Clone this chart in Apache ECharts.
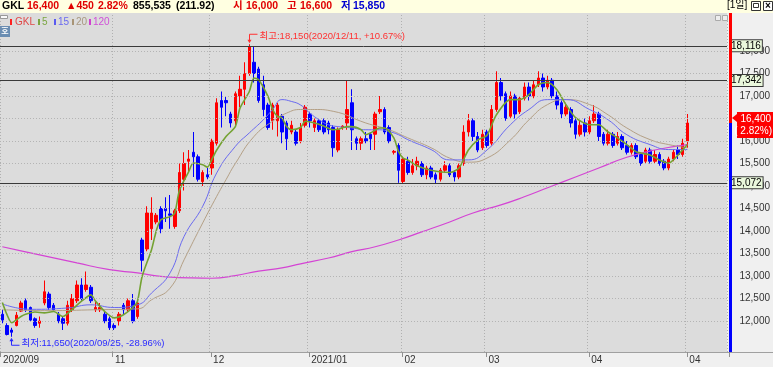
<!DOCTYPE html>
<html><head><meta charset="utf-8">
<script src="https://cdn.jsdelivr.net/npm/echarts@6.0.0/dist/echarts.min.js"></script>
<style>html,body{margin:0;padding:0;background:#f0f0f0;overflow:hidden}#c{width:773px;height:367px}</style>
</head><body><div id="c"></div>
<script>
const dates = ['2020/09/23','2020/09/24','2020/09/25','2020/09/28','2020/09/29',
'2020/10/05','2020/10/06','2020/10/07','2020/10/08','2020/10/12','2020/10/13','2020/10/14','2020/10/15','2020/10/16','2020/10/19','2020/10/20','2020/10/21','2020/10/22','2020/10/23','2020/10/26','2020/10/27','2020/10/28','2020/10/29','2020/10/30',
'2020/11/02','2020/11/03','2020/11/04','2020/11/05','2020/11/06','2020/11/09','2020/11/10','2020/11/11','2020/11/12','2020/11/13','2020/11/16','2020/11/17','2020/11/18','2020/11/19','2020/11/20','2020/11/23','2020/11/24','2020/11/25','2020/11/26','2020/11/27','2020/11/30',
'2020/12/01','2020/12/02','2020/12/03','2020/12/04','2020/12/07','2020/12/08','2020/12/09','2020/12/10','2020/12/11','2020/12/14','2020/12/15','2020/12/16','2020/12/17','2020/12/18','2020/12/21','2020/12/22','2020/12/23','2020/12/24','2020/12/28','2020/12/29','2020/12/30',
'2021/01/04','2021/01/05','2021/01/06','2021/01/07','2021/01/08','2021/01/11','2021/01/12','2021/01/13','2021/01/14','2021/01/15','2021/01/18','2021/01/19','2021/01/20','2021/01/21','2021/01/22','2021/01/25','2021/01/26','2021/01/27','2021/01/28','2021/01/29',
'2021/02/01','2021/02/02','2021/02/03','2021/02/04','2021/02/05','2021/02/08','2021/02/09','2021/02/10','2021/02/15','2021/02/16','2021/02/17','2021/02/18','2021/02/19','2021/02/22','2021/02/23','2021/02/24','2021/02/25','2021/02/26',
'2021/03/02','2021/03/03','2021/03/04','2021/03/05','2021/03/08','2021/03/09','2021/03/10','2021/03/11','2021/03/12','2021/03/15','2021/03/16','2021/03/17','2021/03/18','2021/03/19','2021/03/22','2021/03/23','2021/03/24','2021/03/25','2021/03/26','2021/03/29','2021/03/30','2021/03/31',
'2021/04/01','2021/04/02','2021/04/05','2021/04/06','2021/04/07','2021/04/08','2021/04/09','2021/04/12','2021/04/13','2021/04/14','2021/04/15','2021/04/16','2021/04/19','2021/04/20','2021/04/21','2021/04/22','2021/04/23','2021/04/26','2021/04/27','2021/04/28','2021/04/29','2021/04/30'];

const opens = [12150,11900,11800,11900,12220,12450,12300,12050,11950,12400,
12600,12350,12150,12050,11950,12250,12450,12800,12700,12750,
12250,12250,12150,12050,11900,12000,12350,12250,12450,12100,
13800,13600,14050,14200,14500,14500,14380,14100,14450,15150,
15550,15750,15650,15100,15250,15400,15950,16900,16900,16600,
16450,17000,17150,17500,17750,17600,17250,16800,16450,16450,
16550,16400,16200,16200,16000,16350,16600,16300,16450,16450,
16400,16300,15800,16300,16400,16850,16050,15950,16050,16150,
16150,16650,16700,16300,15750,15900,15100,15550,15300,15450,
15500,15250,15400,15250,15150,15350,15450,15300,15200,15500,
16200,16450,16100,15850,16200,15950,16700,17300,17050,16550,
17000,16650,16950,17200,17000,17250,17400,17200,17350,17000,
16850,16600,16700,16450,16150,16400,16200,16450,16600,16150,
15950,16150,15950,16100,15900,15750,15900,15700,15550,15800,
15550,15700,15550,15400,15600,15800,15700,16000];

const closes = [12020,11700,11750,12130,12400,12250,12020,11900,12000,12650,
12300,12250,12000,11950,12350,12500,12800,12500,12800,12450,
12300,12300,12000,11850,11850,12150,12250,12450,12000,12400,
13350,14400,14400,14350,14050,14450,14350,14450,15300,15500,
15600,15650,15150,15300,15200,16000,16850,16750,16850,16400,
17050,17150,17500,18100,17500,16900,16700,16300,16800,16800,
16200,16050,16350,15950,16300,16750,16450,16450,16250,16200,
16250,15850,16250,16330,16700,16250,15950,16050,16000,16050,
16600,16700,16200,16000,15770,15350,15600,15300,15450,15550,
15250,15400,15200,15150,15350,15450,15250,15200,15450,16200,
16450,16100,15800,16150,15900,16700,17300,17000,16500,17000,
16600,16950,17200,17000,17250,17400,17200,17350,17000,16800,
16600,16750,16400,16150,16350,16200,16450,16600,16100,15950,
16150,15900,16100,15850,15750,15900,15650,15500,15800,15550,
15700,15500,15400,15600,15750,15700,15950,16400];

const lows = [11950,11680,11650,11880,12200,12200,12000,11850,11850,12350,
12250,12200,11950,11800,11900,12200,12400,12450,12650,12400,
12200,12200,11950,11800,11800,11900,12150,12200,11950,12050,
13100,13550,13800,14150,13950,14200,14050,14050,14400,14900,
15300,15200,15100,15000,15150,15250,15900,16300,16550,16300,
16350,16750,16800,17450,17300,16850,16550,16250,16250,16100,
15950,15800,16150,15900,15950,16300,16300,16200,16200,16150,
16150,15650,15750,16250,16250,15800,15800,15800,15950,15800,
15800,16600,16150,15950,15700,15070,15050,15250,15250,15350,
15200,15150,15150,15050,15100,15300,15200,15100,15150,15450,
16100,16000,15750,15800,15850,15900,16650,16900,16450,16500,
16500,16600,16900,16900,16950,17200,17100,17150,16950,16700,
16500,16550,16300,16050,16100,16100,16150,16400,16000,15900,
15900,15850,15900,15800,15700,15700,15600,15450,15500,15500,
15500,15450,15350,15350,15550,15600,15650,15850];

const highs = [12250,11950,11850,12200,12450,12500,12320,12080,12100,12900,
12650,12400,12200,12100,12450,12600,12900,12950,13100,12800,
12450,12400,12200,12100,11950,12200,12400,12500,12600,12450,
13850,14550,14750,14400,14550,14750,14800,14500,15500,15750,
15800,16200,15700,15350,15400,16050,16950,17100,17000,16650,
17100,17450,17750,18150,18100,17650,17450,16850,16850,16850,
16600,16450,16450,16250,16400,16800,16650,16500,16500,16500,
16450,16350,16300,16350,17350,17150,16100,16100,16200,16200,
16650,17000,16750,16350,15800,15950,15650,15650,15600,15650,
15550,15450,15450,15300,15400,15550,15500,15350,15500,16350,
16600,16500,16200,16250,16250,16800,17550,17400,17100,17100,
17050,17000,17300,17300,17350,17550,17500,17450,17400,17100,
16900,16850,16750,16500,16450,16500,16550,16800,16650,16200,
16250,16200,16200,16150,16000,15950,15950,15750,15850,15850,
15800,15750,15600,15650,15800,15900,16050,16600];

// moving averages: [category index, value]
const ma5 = [[0,12410],[1,12140],[2,11960],[4,12100],[5,12150],[7,12200],[9,12180],[11,12210],[13,12100],[15,12260],[17,12440],[19,12580],[20,12440],[22,12210],[24,12070],[26,12140],[28,12300],[29,12440],[30,12990],[32,13580],[33,13990],[34,14250],[36,14320],[37,14400],[38,14900],[40,15320],[41,15510],[43,15470],[44,15420],[45,15600],[46,15800],[48,16100],[50,16320],[51,16730],[53,17100],[54,17400],[55,17360],[57,16990],[58,16700],[59,16550],[60,16510],[61,16320],[62,16250],[64,16300],[65,16440],[67,16400],[69,16330],[71,16250],[72,16260],[74,16320],[75,16320],[77,16250],[78,16140],[79,16180],[81,16290],[82,16290],[84,16070],[85,15770],[86,15620],[87,15580],[89,15450],[92,15350],[96,15300],[98,15400],[100,15800],[102,16020],[104,16130],[106,16580],[109,16920],[111,16920],[113,17030],[115,17250],[117,17300],[119,17140],[121,16800],[123,16520],[126,16360],[128,16360],[130,16200],[132,16070],[134,15920],[136,15760],[139,15690],[141,15580],[143,15510],[145,15690],[147,15920]];
const ma15 = [[0,12380],[6,12260],[14,12290],[19,12360],[24,12300],[29,12360],[32,12620],[36,13070],[39,13880],[43,14550],[46,15290],[50,15880],[53,16180],[56,16470],[58,16700],[60,16920],[62,16880],[64,16800],[66,16620],[68,16470],[70,16360],[72,16320],[75,16290],[78,16250],[81,16250],[83,16210],[85,16140],[87,16030],[92,15810],[96,15580],[100,15580],[104,15800],[109,16360],[113,16700],[117,16920],[121,16920],[126,16700],[130,16470],[134,16140],[139,15920],[143,15810],[147,15810]];
const ma20 = [[0,12250],[10,12230],[20,12250],[29,12270],[32,12470],[36,12730],[39,13360],[43,14180],[46,14770],[48,15140],[50,15500],[54,16100],[58,16440],[61,16620],[64,16700],[67,16700],[71,16660],[78,16400],[83,16250],[87,16070],[92,15850],[96,15620],[100,15530],[104,15620],[109,16020],[113,16470],[117,16810],[121,16920],[126,16810],[130,16580],[134,16290],[139,16030],[143,15920],[147,15850]];
const ma120 = [[0,13650],[4,13560],[8,13470],[16,13290],[23,13140],[29,13070],[34,12990],[40,12960],[45,12950],[50,13010],[55,13110],[60,13180],[64,13270],[70,13400],[75,13540],[80,13650],[85,13800],[90,13980],[96,14200],[101,14400],[107,14580],[112,14760],[117,14960],[123,15200],[128,15400],[134,15640],[140,15800],[147,15920]];

const gridValues = [12000,12500,13000,13500,14000,14500,15000,15500,16000,16500,17000,17500,18000];
const levelLines = [18116,17342,15072];
const tickDates = ['2020/09/23','2020/11/02','2020/12/01','2021/01/04','2021/02/01','2021/03/02','2021/04/01','2021/04/30'];
const tickLabels = ['2020/09','11','12','2021/01','02','03','04','04'];
const volumeText = ['855,535','(211.92)'];

const FONT = '"Liberation Sans","Noto Sans CJK KR",sans-serif';
const fmt = v => Math.round(v).toLocaleString('en-US');
const N = 156;
const cats = dates.concat(new Array(N - dates.length).fill(''));
const tickIdx = tickDates.map(d => dates.indexOf(d));
const isTick = i => tickIdx.indexOf(i) >= 0;
const candles = dates.map((d, i) => [opens[i], closes[i], lows[i], highs[i]]);

const chart = echarts.init(document.getElementById('c'), null, {renderer: 'canvas'});
const maLine = (name, data, color, width, smooth) => ({
  type: 'line', name, data, xAxisIndex: 0, yAxisIndex: 0, symbol: 'none', showSymbol: false,
  smooth, z: 4, lineStyle: {color, width}, silent: true
});
chart.setOption({
  animation: false,
  backgroundColor: '#f0f0f0',
  grid: [
    {left: 0, right: 44, top: 6, height: 360, show: true, backgroundColor: '#dcdcdc', borderWidth: 0},
    {left: 0, right: 44, top: 351, height: 1, show: false}
  ],
  xAxis: [
    {type: 'category', gridIndex: 0, data: cats, axisLine: {show: false}, axisTick: {show: false}, axisLabel: {show: false},
     splitLine: {show: true, interval: (i) => isTick(i), lineStyle: {color: '#b0b0b0', type: [1, 2], width: 1}}},
    {type: 'category', gridIndex: 1, data: cats, z: 200,
     axisLine: {show: true, lineStyle: {color: '#a0a0a0'}},
     axisTick: {show: true, interval: (i) => isTick(i), length: 5, lineStyle: {color: '#909090'}},
     axisLabel: {interval: (i) => isTick(i), formatter: (v, i) => tickLabels[tickIdx.indexOf(i)] || '',
                 align: 'left', margin: 3, fontSize: 10, color: '#333', fontFamily: FONT}}
  ],
  yAxis: [
    {type: 'value', gridIndex: 0, min: 11000, max: 19000, interval: 500, position: 'right',
     axisLine: {show: false}, axisTick: {show: false}, splitLine: {show: false},
     axisLabel: {margin: 43, align: 'right', fontSize: 10, color: '#333', fontFamily: FONT,
                 formatter: v => (v >= 12000 && v <= 18000) ? fmt(v) : ''}},
    {type: 'value', gridIndex: 1, show: false}
  ],
  series: [
    {type: 'line', xAxisIndex: 0, yAxisIndex: 0, data: [], z: 1, silent: true,
     markLine: {silent: true, symbol: ['none', 'none'], animation: false,
       data: gridValues.map(v => ({yAxis: v, lineStyle: {color: '#b4b4b4', type: [1, 2], width: 1}, label: {show: false}}))}},
    {type: 'candlestick', xAxisIndex: 0, yAxisIndex: 0, data: candles, barWidth: 3, z: 3,
     itemStyle: {color: '#ff0000', color0: '#0000ff', borderColor: '#ff0000', borderColor0: '#0000ff', borderWidth: 1},
     markLine: {silent: true, symbol: ['none', 'none'], animation: false,
       data: levelLines.map(v => ({yAxis: v, lineStyle: {color: '#3a3a3a', type: 'solid', width: 1},
         label: {show: true, position: 'end', distance: 3, formatter: fmt(v), color: '#000', fontSize: 10, fontFamily: FONT,
                 backgroundColor: '#eaf8dc', borderColor: '#3a3a3a', borderWidth: 1, padding: [1, 1, 0, 1], lineHeight: 10}}))}},
    maLine('120', ma120, '#d444d4', 1.2, true),
    maLine('20', ma20, '#b4a086', 1, true),
    maLine('15', ma15, '#6a6af0', 1, true),
    maLine('5', ma5, '#74a232', 1.6, 0.25)
  ]
});

const px = (i, v) => chart.convertToPixel({xAxisIndex: 0, yAxisIndex: 0}, [i, v]);
const G = [];
const T = (x, y, text, fill, font, align, z) => G.push({type: 'text', x, y, z: z || 101, silent: true,
  style: {text, fill, font, textAlign: align || 'left', textVerticalAlign: 'middle'}});
const R = (x, y, w, h, fill, stroke, z) => G.push({type: 'rect', z: z || 100, silent: true,
  shape: {x, y, width: w, height: h}, style: {fill: fill || 'none', stroke: stroke || null, lineWidth: 1}});

// header bar
R(0, 0, 773, 13, '#ffffe1', null, 100);
const last = closes.length - 1;
const diff = closes[last] - closes[last - 1];
const pct = (diff / closes[last - 1] * 100).toFixed(2);
const HF = 'bold 10.5px ' + FONT;
T(2, 6.5, 'GKL', '#000', HF);
T(27, 6.5, fmt(closes[last]), '#e00000', HF);
T(66, 6.5, '▲' + fmt(diff), '#e00000', HF);
T(98, 6.5, pct + '%', '#e00000', HF);
T(133, 6.5, volumeText[0], '#000', HF);
T(176, 6.5, volumeText[1], '#000', HF);
T(233, 6.5, '시', '#e00000', HF); T(246, 6.5, fmt(opens[last]), '#e00000', HF);
T(287, 6.5, '고', '#e00000', HF); T(300, 6.5, fmt(highs[last]), '#e00000', HF);
T(341, 6.5, '저', '#0000d0', HF); T(353, 6.5, fmt(lows[last]), '#0000d0', HF);
T(727, 5.5, '[1일]', '#000', '10px ' + FONT);
R(751.5, 1.5, 9, 9, '#ffffff', '#333', 101); R(753.5, 3.5, 5, 4, 'none', '#333', 102);
R(763.5, 1.5, 9, 9, '#ffffff', '#333', 101);
T(768, 6, '×', '#000', 'bold 10px ' + FONT, 'center', 102);

// legend row & small icons
R(0.5, 15.5, 7, 3, '#fafafa', '#999', 101);
R(10, 19, 2, 6, '#ff2020', null, 101); T(15, 22, 'GKL', '#e04848', '10px ' + FONT);
R(38, 19, 2, 6, '#7aa640', null, 101); T(42, 22, '5', '#7aa640', '10px ' + FONT);
R(54, 19, 2, 6, '#5a5af0', null, 101); T(58, 22, '15', '#6a6af0', '10px ' + FONT);
R(72, 19, 2, 6, '#a89476', null, 101); T(76, 22, '20', '#a89880', '10px ' + FONT);
R(89, 19, 2, 6, '#d040d0', null, 101); T(93, 22, '120', '#d050d8', '10px ' + FONT);
R(0, 26, 10, 11, '#6a8db2', null, 101); T(5, 31.5, '호', '#ffffff', 'bold 8px ' + FONT, 'center', 102);
R(715.5, 15.5, 5, 5, '#eeeeee', '#aaa', 101); R(722.5, 15.5, 5, 5, '#eeeeee', '#aaa', 101);

// bottom band
R(0, 352, 773, 15, '#f0f0f0', null, 100);
G.push({type: 'line', z: 101, silent: true, shape: {x1: 0, y1: 352.5, x2: 773, y2: 352.5}, style: {stroke: '#a0a0a0', lineWidth: 1}});

// current price marker
const pLast = px(last, closes[last]);
const py = pLast[1];
R(729, 13, 3, py - 13, '#ff0000', null, 100);
R(729, py, 3, 352 - py, '#0000ff', null, 100);
R(737, py - 11, 36, 26, '#ff0000', null, 101);
G.push({type: 'polygon', z: 101, silent: true, shape: {points: [[732, py - 5], [737, py - 9], [737, py - 1]]}, style: {fill: '#ff0000'}});
T(771, py - 4, fmt(closes[last]), '#ffffff', '10px ' + FONT, 'right', 102);
T(772, py + 8, '( ' + pct + '%)', '#ffffff', '10px ' + FONT, 'right', 102);

// high / low annotations
const hiVal = Math.max(...highs), iHi = highs.indexOf(hiVal);
const loVal = Math.min(...lows), iLo = lows.indexOf(loVal);
const pHi = px(iHi, hiVal), pLo = px(iLo, loVal);
const AF = '9.5px ' + FONT;
const hx = Math.round(pHi[0]) + 0.5, hy = pHi[1];
G.push({type: 'polyline', z: 102, silent: true, shape: {points: [[hx, hy - 4], [hx, hy - 10], [hx + 8, hy - 10]]}, style: {stroke: '#ff3030', lineWidth: 1, fill: null}});
G.push({type: 'polygon', z: 102, silent: true, shape: {points: [[hx - 2, hy - 4.5], [hx + 2, hy - 4.5], [hx, hy - 1]]}, style: {fill: '#ff3030'}});
T(hx + 10, hy - 7.5, '최고:' + fmt(hiVal) + '(' + dates[iHi] + ', +' + ((hiVal / closes[last] - 1) * 100).toFixed(2) + '%)', '#ff3030', AF, 'left', 102);
const lx = Math.round(pLo[0]) - 0.5, ly = pLo[1];
G.push({type: 'polyline', z: 102, silent: true, shape: {points: [[lx, ly + 4], [lx, ly + 8.5], [lx + 8, ly + 8.5]]}, style: {stroke: '#2a2aff', lineWidth: 1, fill: null}});
G.push({type: 'polygon', z: 102, silent: true, shape: {points: [[lx - 2, ly + 4.5], [lx + 2, ly + 4.5], [lx, ly + 1]]}, style: {fill: '#2a2aff'}});
T(lx + 10, ly + 6.5, '최저:' + fmt(loVal) + '(' + dates[iLo] + ', -' + ((1 - loVal / closes[last]) * 100).toFixed(2) + '%)', '#2a2aff', AF, 'left', 102);

chart.setOption({graphic: G});
</script></body></html>
